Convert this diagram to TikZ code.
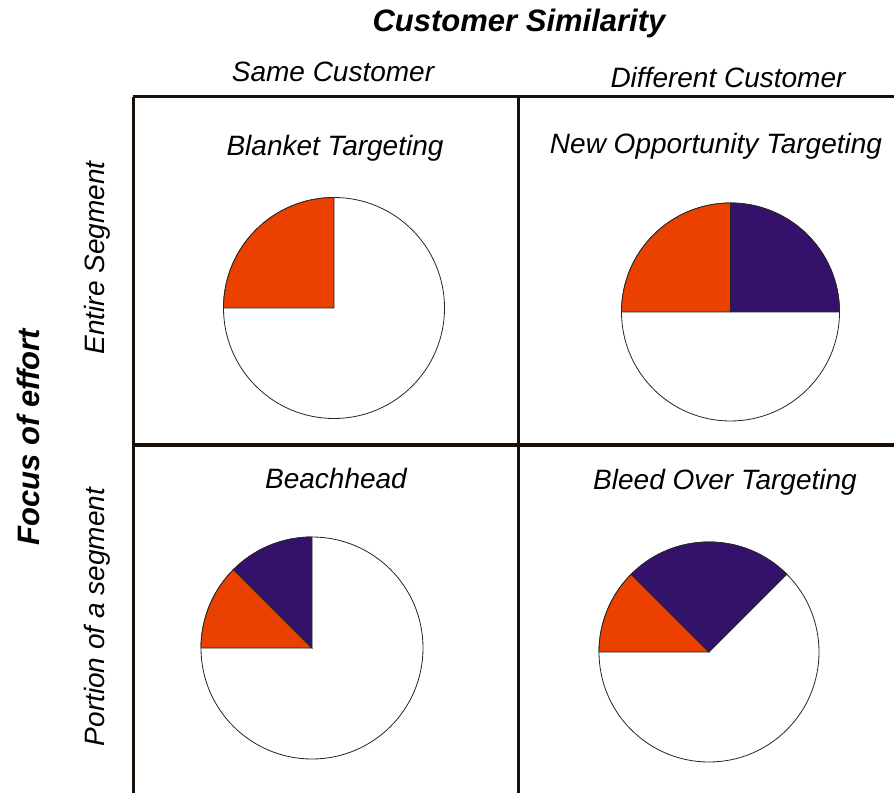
\documentclass[tikz,border=0pt]{standalone}
\usepackage{fontspec}
\setmainfont{Liberation Sans}
\begin{document}
\begin{tikzpicture}[x=1pt,y=1pt,
  frame/.style={draw=black!88!brown, line width=3pt},
  midrule/.style={draw=black!88!brown, line width=4.5pt},
  lbl/.style={font=\fontsize{28}{31}\selectfont\itshape, inner sep=0pt},
  head/.style={font=\fontsize{31}{34}\selectfont\bfseries\itshape, inner sep=0pt},
  wedge/.style={draw=black!85, line width=0.8pt},
  disc/.style={draw=black!85, fill=white, line width=0.8pt}]
\definecolor{pieorange}{RGB}{234,64,0}
\definecolor{piepurple}{RGB}{52,18,107}
\useasboundingbox (0,0) rectangle (894,793);

% quadrant frame
\coordinate (tl) at (133,696);
\coordinate (tr) at (894,696);
\coordinate (bl) at (133,0);
\coordinate (mt) at (518,696);
\coordinate (mb) at (518,0);
\coordinate (ml) at (133,348);
\coordinate (mr) at (894,348);
\draw[frame] (tl) -- (tr);
\draw[frame] (tl) -- (bl);
\draw[frame] (mt) -- (mb);
\draw[midrule] (ml) -- (mr);

% axis titles
\node[head] (title) at (519,770) {Customer Similarity};
\node[head, rotate=90] (focus) at (28,356) {Focus of effort};
\node[lbl] (same) at (333,721) {Same Customer};
\node[lbl] (diff) at (728,716) {Different Customer};
\node[lbl, rotate=90] (entire) at (97,535) {Entire Segment};
\node[lbl, rotate=90] (portion) at (97,176) {Portion of a segment};

% quadrant titles
\node[lbl] (q1) at (335,645) {Blanket Targeting};
\node[lbl] (q2) at (716,647) {New Opportunity Targeting};
\node[lbl] (q3) at (336,314) {Beachhead};
\node[lbl] (q4) at (725,311) {Bleed Over Targeting};

% Blanket Targeting pie
\coordinate (c1) at (334,485);
\fill[disc] (c1) circle[radius=110.5];
\filldraw[wedge, fill=pieorange] (c1) -- ++(90:110.5) arc[start angle=90, end angle=180, radius=110.5] -- cycle;

% New Opportunity Targeting pie
\coordinate (c2) at (730.5,481);
\fill[disc] (c2) circle[radius=109];
\filldraw[wedge, fill=pieorange] (c2) -- ++(90:109) arc[start angle=90, end angle=180, radius=109] -- cycle;
\filldraw[wedge, fill=piepurple] (c2) -- ++(0:109) arc[start angle=0, end angle=90, radius=109] -- cycle;

% Beachhead pie
\coordinate (c3) at (312,145);
\fill[disc] (c3) circle[radius=111];
\filldraw[wedge, fill=pieorange] (c3) -- ++(135:111) arc[start angle=135, end angle=180, radius=111] -- cycle;
\filldraw[wedge, fill=piepurple] (c3) -- ++(90:111) arc[start angle=90, end angle=135, radius=111] -- cycle;

% Bleed Over Targeting pie
\coordinate (c4) at (709,141);
\fill[disc] (c4) circle[radius=110];
\filldraw[wedge, fill=pieorange] (c4) -- ++(135:110) arc[start angle=135, end angle=180, radius=110] -- cycle;
\filldraw[wedge, fill=piepurple] (c4) -- ++(45:110) arc[start angle=45, end angle=135, radius=110] -- cycle;
\end{tikzpicture}
\end{document}
